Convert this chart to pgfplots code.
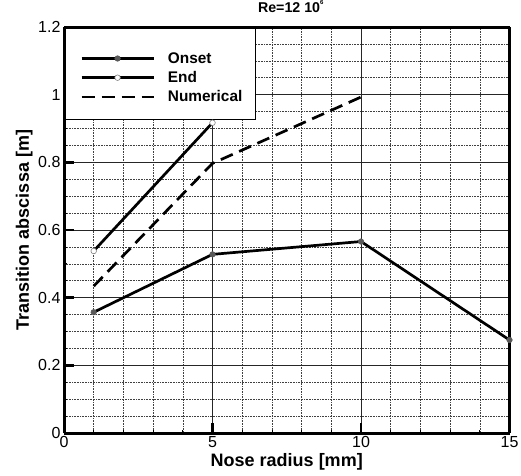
\documentclass[border=0pt]{standalone}
\usepackage{fontspec}
\setmainfont{Liberation Sans}
\usepackage{pgfplots}
\pgfplotsset{compat=1.18}
\begin{document}
\begin{tikzpicture}[x=1pt,y=1pt]
\useasboundingbox (0,0) rectangle (521,475);
\begin{axis}[
  at={(64pt,42pt)}, anchor=south west,
  scale only axis, width=445.5pt, height=406pt,
  xmin=0, xmax=15, ymin=0, ymax=1.2,
  xtick={0,5,10,15}, ytick={0,0.2,0.4,0.6,0.8,1,1.2},
  minor x tick num=4, minor y tick num=3,
  grid=both,
  major grid style={line width=0.8pt, black!85},
  minor grid style={line width=0.6pt, black!75, densely dotted},
  separate axis lines,
  every outer x axis line/.append style={line width=3pt},
  every outer y axis line/.append style={line width=3pt},
  axis line style={line width=3pt},
  tick align=inside, tick pos=left,
  major tick length=10pt, minor tick length=3pt,
  major tick style={line width=2.5pt, black},
  minor tick style={line width=0.8pt, black},
  /pgf/number format/assume math mode=true,
  ticklabel style={font=\fontsize{16}{19}\selectfont},
  xlabel={Nose radius [mm]}, ylabel={Transition abscissa [m]},
  label style={font=\bfseries\fontsize{18}{21}\selectfont},
  xlabel style={at={(axis description cs:0.5,-0.0837)}, anchor=base},
  ylabel style={at={(axis description cs:-0.0786,0.5)}, anchor=base},
  title={Re=12 10\raisebox{7.5pt}{\fontsize{6}{7}\selectfont 6}},
  title style={font=\bfseries\fontsize{14.2}{17}\selectfont, at={(axis description cs:0.5,1)}, anchor=base, yshift=8.7pt, xshift=4pt},
  legend style={at={(0,1)}, anchor=north west, draw=none, fill=none,
    inner xsep=16pt, inner ysep=26.3pt, row sep=9.2pt, column sep=13pt,
    font=\bfseries\fontsize{15.4}{18}\selectfont,
    nodes={inner sep=0pt, text height=10pt, text depth=0pt}},
  legend cell align=left,
  legend image code/.code={\draw[mark repeat=2,mark phase=2,#1] plot coordinates {(0pt,0pt)(36pt,0pt)(72pt,0pt)};},
  every axis plot post/.append style={line width=2.7pt},
]
\fill[white] ([xshift=1.5pt,yshift=-1.5pt]axis description cs:0,1) rectangle (axis description cs:0.4287,0.7734);
\draw[line width=0.8pt, black] (axis description cs:0.4287,1) |- (axis description cs:0,0.7734);
\addplot[black, mark=*, mark size=2.8pt, mark options={fill=black!65, draw=black!65, line width=0.5pt, solid}] coordinates {(1,0.357)(5,0.528)(10,0.566)(15,0.275)};
\addlegendentry{Onset}
\addplot[black, mark=*, mark size=2.8pt, mark options={draw=black!50, fill=white, line width=0.6pt, solid}] coordinates {(1,0.538)(5,0.917)};
\addlegendentry{End}
\addplot[black, dash pattern=on 13pt off 7pt] coordinates {(1,0.434)(5,0.797)(10,0.993)};
\addlegendentry{Numerical}
\end{axis}
\end{tikzpicture}
\end{document}
